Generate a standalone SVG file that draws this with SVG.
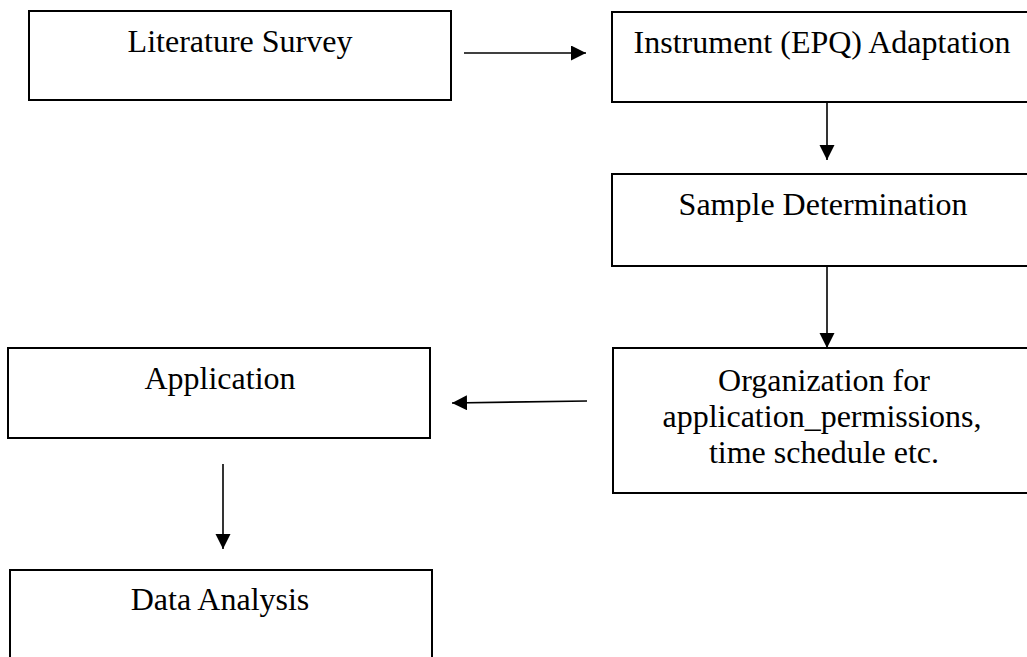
<svg xmlns="http://www.w3.org/2000/svg" width="1027" height="657" viewBox="0 0 1027 657">
  <style>
    .box { fill: #ffffff; stroke: #000000; stroke-width: 2; }
    .label { font-family: "Liberation Serif", "Times New Roman", serif; font-size: 32px; fill: #000000; text-anchor: middle; }
    .edge { stroke: #000000; stroke-width: 1.6; fill: none; marker-end: url(#arrow); }
  </style>
  <defs>
    <marker id="arrow" markerUnits="userSpaceOnUse" markerWidth="16" markerHeight="16" refX="15" refY="7.5" orient="auto">
      <path d="M0,0 L15,7.5 L0,15 Z" fill="#000000"/>
    </marker>
  </defs>
  <rect width="1027" height="657" fill="#ffffff"/>

  <g id="literature-survey">
    <rect class="box" x="29" y="11" width="422" height="89"/>
    <text class="label" x="240" y="52">Literature Survey</text>
  </g>

  <g id="instrument-adaptation">
    <rect class="box" x="612" y="12" width="420" height="90"/>
    <text class="label" x="822" y="53">Instrument (EPQ) Adaptation</text>
  </g>

  <g id="sample-determination">
    <rect class="box" x="612" y="174" width="420" height="92"/>
    <text class="label" x="823" y="215">Sample Determination</text>
  </g>

  <g id="organization">
    <rect class="box" x="613" y="348" width="420" height="145"/>
    <text class="label" x="824" y="391">Organization for</text>
    <text class="label" x="822" y="427">application_permissions,</text>
    <text class="label" x="824" y="463">time schedule etc.</text>
  </g>

  <g id="application">
    <rect class="box" x="8" y="348" width="422" height="90"/>
    <text class="label" x="220" y="389">Application</text>
  </g>

  <g id="data-analysis">
    <rect class="box" x="10" y="570" width="422" height="100"/>
    <text class="label" x="220" y="610">Data Analysis</text>
  </g>

  <g id="connectors">
    <line class="edge" x1="464" y1="53" x2="586" y2="53"/>
    <line class="edge" x1="827" y1="102" x2="827" y2="160"/>
    <line class="edge" x1="827" y1="266" x2="827" y2="348"/>
    <line class="edge" x1="587" y1="401" x2="452" y2="403"/>
    <line class="edge" x1="223" y1="464" x2="223" y2="549"/>
  </g>
</svg>
